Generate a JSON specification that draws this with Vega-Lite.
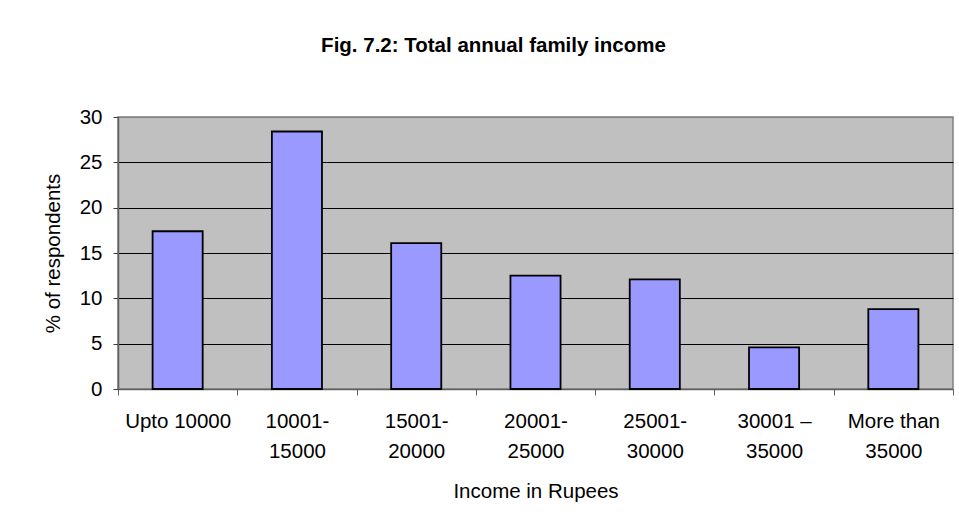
{
  "$schema": "https://vega.github.io/schema/vega-lite/v6.json",
  "width": 835,
  "height": 272,
  "autosize": {"type": "none"},
  "padding": {"left": 118, "top": 117, "right": 6, "bottom": 143},
  "background": "white",
  "title": {
    "text": "Fig. 7.2: Total annual family income",
    "font": "Liberation Sans, Arial, sans-serif",
    "fontSize": 20.5,
    "fontWeight": "bold",
    "color": "black",
    "anchor": "middle",
    "frame": "group",
    "baseline": "alphabetic",
    "offset": 35,
    "dx": -42
  },
  "config": {
    "font": "Liberation Sans, Arial, sans-serif",
    "view": {"fill": "#C0C0C0", "stroke": "#808080", "strokeWidth": 1.5}
  },
  "data": {
    "values": [
      {"income": "Upto 10000", "pct": 17.4},
      {"income": "10001-15000", "pct": 28.4},
      {"income": "15001-20000", "pct": 16.1},
      {"income": "20001-25000", "pct": 12.5},
      {"income": "25001-30000", "pct": 12.1},
      {"income": "30001 – 35000", "pct": 4.6},
      {"income": "More than 35000", "pct": 8.8}
    ]
  },
  "mark": {
    "type": "bar",
    "fill": "#9999FF",
    "stroke": "black",
    "strokeWidth": 1.8,
    "width": {"band": 0.42}
  },
  "encoding": {
    "x": {
      "field": "income",
      "type": "nominal",
      "sort": null,
      "scale": {"paddingInner": 0, "paddingOuter": 0},
      "axis": {
        "title": "Income in Rupees",
        "titleFontSize": 20.5,
        "titleFontWeight": "normal",
        "titleColor": "black",
        "titlePadding": 20,
        "labelAngle": 0,
        "labelFontSize": 20.5,
        "labelColor": "black",
        "labelPadding": 16,
        "labelLineHeight": 30,
        "labelBaseline": "top",
        "labelExpr": "datum.label == 'Upto 10000' ? datum.label : [substring(datum.label, 0, length(datum.label) - 5), substring(datum.label, length(datum.label) - 5)]",
        "tickBand": "extent",
        "tickSize": 6,
        "tickColor": "#606060",
        "domainColor": "#606060",
        "domainWidth": 1.5,
        "grid": false
      }
    },
    "y": {
      "field": "pct",
      "type": "quantitative",
      "scale": {"domain": [0, 30], "nice": false},
      "axis": {
        "title": "% of respondents",
        "titleFontSize": 20.5,
        "titleFontWeight": "normal",
        "titleColor": "black",
        "titlePadding": 16,
        "values": [0, 5, 10, 15, 20, 25, 30],
        "labelFontSize": 20.5,
        "labelColor": "black",
        "labelPadding": 11,
        "tickSize": 5,
        "tickColor": "#404040",
        "domainColor": "#606060",
        "domainWidth": 1.5,
        "grid": true,
        "gridColor": {"condition": {"test": "datum.value == 30 || datum.value == 0", "value": "#808080"}, "value": "black"},
        "gridWidth": 1,
        "gridOpacity": 1
      }
    }
  }
}
